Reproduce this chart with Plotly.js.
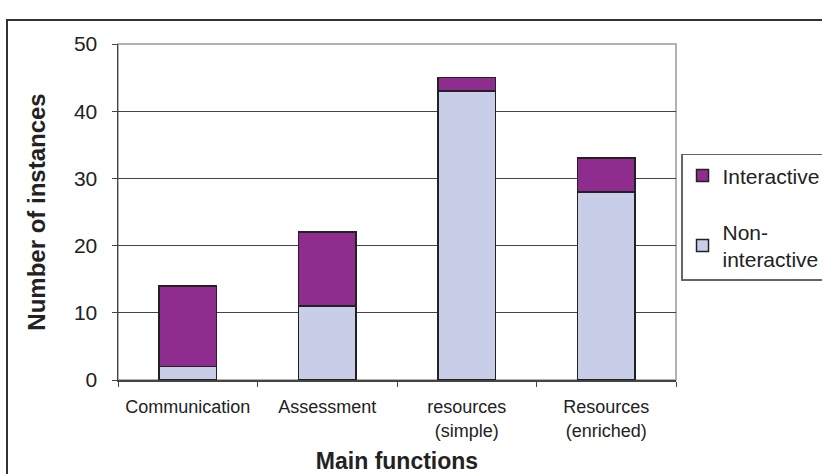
<!DOCTYPE html>
<html>
<head>
<meta charset="utf-8">
<script src="https://cdn.plot.ly/plotly-3.0.1.min.js"></script>
<style>
html, body { margin:0; padding:0; background:#fff; }
#frame { position:absolute; left:6px; top:19px; width:900px; height:600px; border:2px solid #333; box-sizing:border-box; }
#chart { position:absolute; left:0; top:0; width:822px; height:474px; }
</style>
</head>
<body>
<div id="frame"></div>
<div id="chart"></div>
<script>
const categories = ["Communication", "Assessment", "resources<br>(simple)", "Resources<br>(enriched)"];
const nonInteractive = [2, 11, 43, 28];
const interactive = [12, 11, 2, 5];
const yTicks = [0, 10, 20, 30, 40, 50];

const font = "Liberation Sans, Arial, sans-serif";
const traces = [
  { type: "bar", name: "Non-<br>interactive", x: categories, y: nonInteractive,
    marker: { color: "#C8CDE8", line: { color: "#222", width: 1.5 } }, legendgroup: "b", legendrank: 2 },
  { type: "bar", name: "Interactive", x: categories, y: interactive,
    marker: { color: "#8E2D8E", line: { color: "#222", width: 1.5 } }, legendgroup: "a", legendrank: 1 }
];
const layout = {
  width: 822, height: 474,
  margin: { l: 118, r: 146, t: 44, b: 94, autoexpand: false },
  paper_bgcolor: "rgba(0,0,0,0)", plot_bgcolor: "rgba(0,0,0,0)",
  barmode: "stack", bargap: 0.59,
  font: { family: font, color: "#222" },
  showlegend: true,
  legend: { x: 1.009, y: 0.673, xanchor: "left", yanchor: "top", traceorder: "grouped",
    tracegroupgap: 26, bordercolor: "#666", borderwidth: 1.5, bgcolor: "#fff",
    font: { size: 21, family: font, color: "#222" } },
  xaxis: { type: "category", showline: true, linecolor: "#444", linewidth: 1.5,
    ticks: "outside", tickson: "boundaries", ticklen: 5, tickcolor: "#444", ticklabelstandoff: 10,
    tickfont: { size: 18, family: font }, automargin: true,
    title: { text: "<b>Main functions</b>", font: { size: 23, family: font }, standoff: 16 } },
  yaxis: { range: [0, 50], tickvals: yTicks, showgrid: true, gridcolor: "#444", gridwidth: 1,
    showline: true, linecolor: "#444", linewidth: 1.5, ticks: "outside", ticklen: 5, tickcolor: "#444",
    ticklabelstandoff: 10, automargin: true,
    tickfont: { size: 21, family: font }, zeroline: false,
    title: { text: "<b>Number of instances</b>", font: { size: 24, family: font }, standoff: 21 } },
  shapes: [{ type: "rect", xref: "paper", yref: "paper", x0: 0, x1: 1, y0: 0, y1: 1,
    line: { color: "#999", width: 1.5 }, layer: "below" }]
};
Plotly.newPlot("chart", traces, layout, { displayModeBar: false, staticPlot: true });
</script>
</body>
</html>
